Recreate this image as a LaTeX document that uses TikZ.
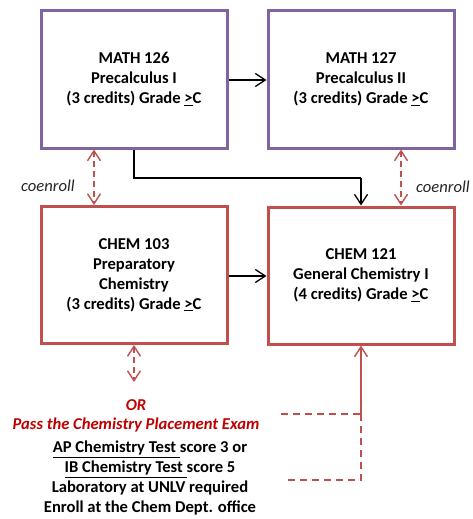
\documentclass[tikz,border=0pt]{standalone}
\usepackage{fontspec}
\setmainfont{Carlito}
\usetikzlibrary{arrows.meta}
\definecolor{mpurple}{HTML}{8064A2}
\definecolor{mred}{HTML}{C0504D}
\definecolor{tred}{HTML}{C00000}
\newcommand{\fs}{\fontsize{16.6}{20}\selectfont}
\tikzset{
  x=1pt,y=1pt,
  course/.style={draw=#1,line width=3pt,minimum width=186pt,minimum height=137pt,align=center,
    font=\fs\bfseries,inner sep=0pt},
  barb/.tip={Straight Barb[length=10pt,width=13pt]},
  flow/.style={line width=1.3pt,-barb},
  coen/.style={draw=mred,line width=1.4pt,dash pattern=on 6pt off 4pt,barb-barb},
  lbl/.style={font=\fs\itshape,text=black!85},
  reddash/.style={draw=mred,line width=1.4pt,dash pattern=on 7pt off 5pt}
}
\newcommand{\gec}{\underline{>}C}
\begin{document}
\begin{tikzpicture}
\useasboundingbox (0,0) rectangle (472,-519);
\node[course=mpurple] (m126) at (134,-79.5) {MATH 126\\Precalculus I\\(3 credits) Grade \gec};
\node[course=mpurple] (m127) at (361,-79.5) {MATH 127\\Precalculus II\\(3 credits) Grade \gec};
\node[course=mred] (c103) at (134,-275) {CHEM 103\\Preparatory\\Chemistry\\(3 credits) Grade \gec};
\node[course=mred] (c121) at (361,-275.5) {CHEM 121\\General Chemistry I\\(4 credits) Grade \gec};
\coordinate (bend1) at (134,-178);
\coordinate (bend2) at (361,-178);
\draw[flow] (m126.east |- 0,-80) -- (m127.west |- 0,-80);
\draw[flow] (c103.east |- 0,-276) -- (c121.west |- 0,-276);
\draw[line width=1.3pt] (m126.south) -- (bend1) -- (bend2);
\draw[flow] (bend2) -- (c121.north -| bend2);
\coordinate (la) at (94,0);
\coordinate (ra) at (401,0);
\draw[coen] (m126.south -| la) -- (c103.north -| la);
\draw[coen] (m127.south -| ra) -- (c121.north -| ra);
\node[lbl] (co1) at (48,-186) {coenroll};
\node[lbl,anchor=west,inner sep=0pt] (co2) at (416,-187) {coenroll};
\coordinate (orarr) at (134,-382);
\draw[coen] (c103.south) -- (orarr);
\node[font=\fs\bfseries\itshape,text=tred] (or) at (136,-405) {OR};
\node[font=\fs\bfseries\itshape,text=tred] (pass) at (136,-425) {Pass the Chemistry Placement Exam};
\node[font=\fs\bfseries,align=center,anchor=north,inner sep=0pt] (info) at (150,-441)
  {\underline{AP Chemistry Test }score 3 or\\\underline{IB Chemistry Test }score 5\\Laboratory at UNLV required\\Enroll at the Chem Dept. office};
\coordinate (j1) at (361,-414);
\coordinate (j2) at (361,-480);
\coordinate (d1) at (281,-414);
\coordinate (d2) at (285,-480);
\draw[reddash] (d1) -- (j1);
\draw[reddash] (j1) -- (j2) -- (d2);
\draw[draw=mred,line width=1.4pt,-barb] (j1) -- (c121.south -| j1);
\end{tikzpicture}
\end{document}
